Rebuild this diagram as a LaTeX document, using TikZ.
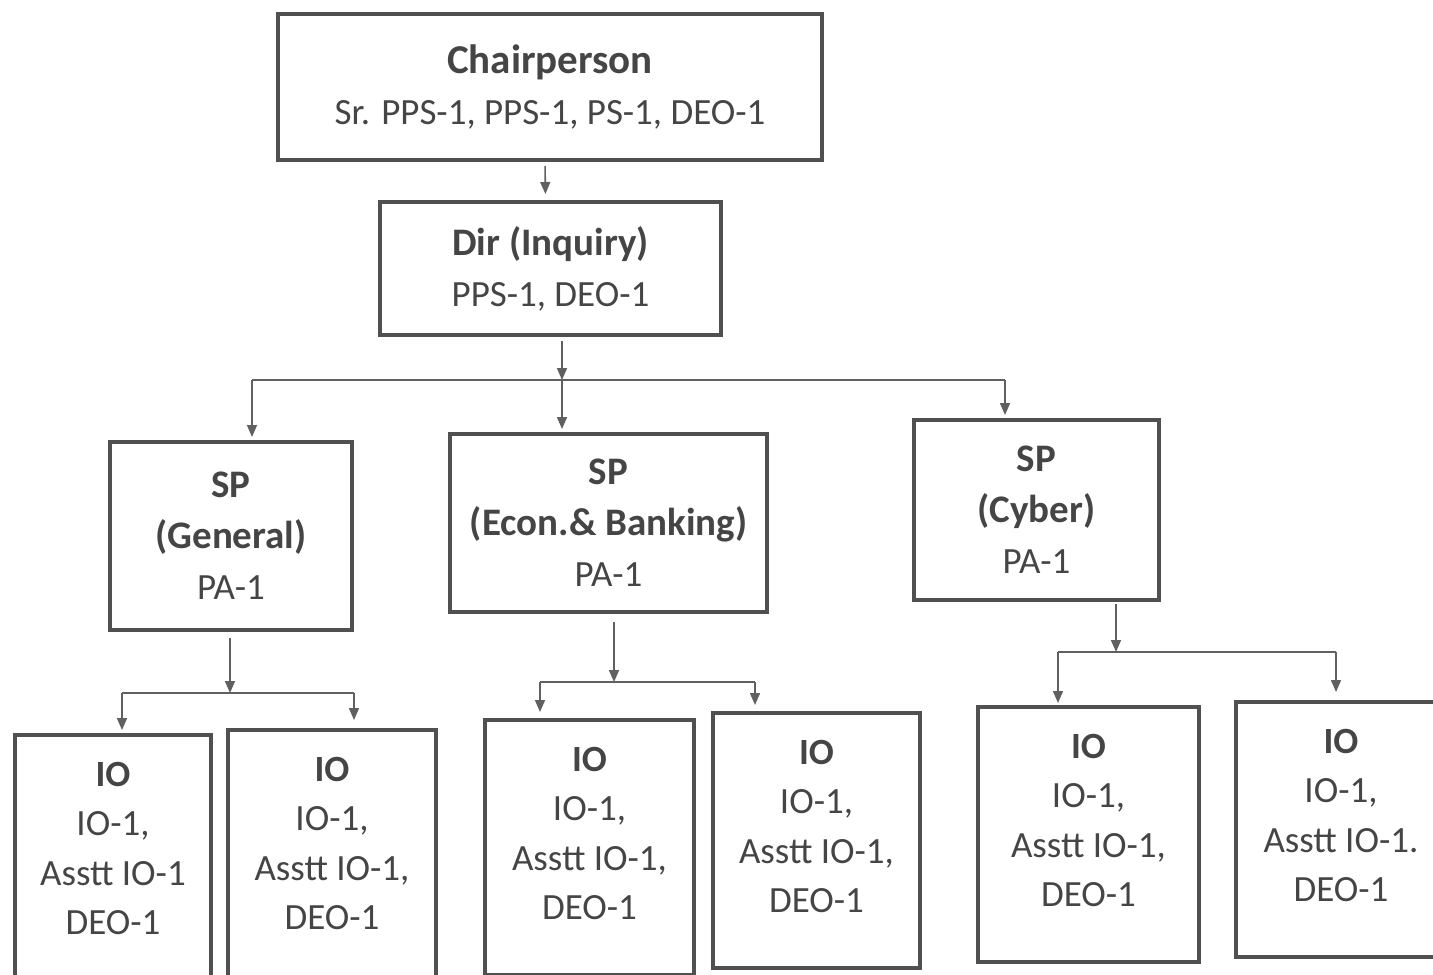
\documentclass[tikz,border=0pt]{standalone}
\usepackage{fontspec}
\setmainfont{Carlito}
\usetikzlibrary{arrows.meta}

\definecolor{ink}{HTML}{454545}
\definecolor{frame}{HTML}{505050}
\definecolor{wire}{HTML}{606060}

\tikzset{
  >={Triangle[length=6pt, width=5pt]},
  box/.style={draw=frame, line width=2pt, text=ink, align=center, inner sep=0pt,
    anchor=north west, font=\fontsize{18.5}{25.5}\selectfont},
  iobox/.style={box, inner xsep=0pt, inner ysep=13.6pt, font=\fontsize{18.5}{24.7}\selectfont},
  link/.style={draw=wire, line width=0.8pt},
}
\newcommand{\hd}[1]{{\fontsize{19.5}{25.5}\selectfont\bfseries #1}}
\newcommand{\low}{\rule[-14pt]{0pt}{14pt}}

\begin{document}
\begin{tikzpicture}[x=0.5pt, y=-0.5pt]

\useasboundingbox (0,0) rectangle (1433,974);
\clip (0,0) rectangle (1433,974);

% top two levels
\node [box, minimum width=272pt, minimum height=73pt] (chair) at (276,12)
  {{\fontsize{20.5}{25.5}\selectfont\bfseries Chairperson}\\Sr. PPS-1, PPS-1, PS-1, DEO-1};
\node [box, minimum width=170.5pt, minimum height=66.5pt] (dir) at (378,200)
  {\hd{Dir (Inquiry)}\\PPS-1, DEO-1};

% SP level
\node [box, minimum width=121pt, minimum height=94pt] (spgen) at (108,440)
  {\hd{SP}\\\hd{(General)}\\PA-1};
\node [box, minimum width=158.5pt, minimum height=89pt] (specon) at (448,432)
  {\hd{SP}\\\hd{(Econ.\& Banking)}\\PA-1};
\node [box, minimum width=122.5pt, minimum height=90pt] (spcyber) at (912,418)
  {\hd{SP}\\\hd{(Cyber)}\\PA-1};

% IO level
\node [iobox, minimum width=98pt] (io1) at (13,733)
  {\textbf{IO}\\IO-1,\\Asstt IO-1\\DEO-1\low};
\node [iobox, minimum width=104pt] (io2) at (226,728)
  {\textbf{IO}\\IO-1,\\Asstt IO-1,\\DEO-1\low};
\node [iobox, minimum width=104.5pt] (io3) at (483,718)
  {\textbf{IO}\\IO-1,\\Asstt IO-1,\\DEO-1\low};
\node [iobox, minimum width=103.5pt] (io4) at (711,711)
  {\textbf{IO}\\IO-1,\\Asstt IO-1,\\DEO-1\low};
\node [iobox, minimum width=110.5pt] (io5) at (976,705)
  {\textbf{IO}\\IO-1,\\Asstt IO-1,\\DEO-1\low};
\node [iobox, minimum width=105pt] (io6) at (1234,700)
  {\textbf{IO}\\IO-1,\\Asstt IO-1.\\DEO-1\low};

% branch points
\coordinate (b1) at (562,380);
\coordinate (b1l) at (252,380);
\coordinate (b1r) at (1005,380);
\coordinate (b2) at (230,693);
\coordinate (b2l) at (122,693);
\coordinate (b2r) at (354,693);
\coordinate (b3) at (614,682);
\coordinate (b3l) at (540,682);
\coordinate (b3r) at (755,682);
\coordinate (b4) at (1116,652);
\coordinate (b4l) at (1058,652);
\coordinate (b4r) at (1336,652);

\draw [link, ->, shorten <=2pt, shorten >=3pt] ([xshift=-2.5pt]chair.south) -- ([xshift=-2.5pt]dir.north);

\draw [link, ->, shorten <=2pt] (dir.south -| b1) -- (b1);
\draw [link] (b1l) -- (b1r);
\draw [link, ->, shorten >=1.5pt] (b1l) -- (b1l |- spgen.north);
\draw [link, ->, shorten >=1.5pt] (b1) -- (b1 |- specon.north);
\draw [link, ->, shorten >=1.5pt] (b1r) -- (b1r |- spcyber.north);

\draw [link, ->, shorten <=3pt] (spgen.south -| b2) -- (b2);
\draw [link] (b2l) -- (b2r);
\draw [link, ->, shorten >=1.5pt] (b2l) -- (b2l |- io1.north);
\draw [link, ->, shorten >=4pt] (b2r) -- (b2r |- io2.north);

\draw [link, ->, shorten <=4pt] (specon.south -| b3) -- (b3);
\draw [link] (b3l) -- (b3r);
\draw [link, ->, shorten >=3pt] (b3l) -- (b3l |- io3.north);
\draw [link, ->, shorten >=3pt] (b3r) -- (b3r |- io4.north);

\draw [link, ->, shorten <=1pt] (spcyber.south -| b4) -- (b4);
\draw [link] (b4l) -- (b4r);
\draw [link, ->, shorten >=1pt] (b4l) -- (b4l |- io5.north);
\draw [link, ->, shorten >=4pt] (b4r) -- (b4r |- io6.north);

\end{tikzpicture}
\end{document}
